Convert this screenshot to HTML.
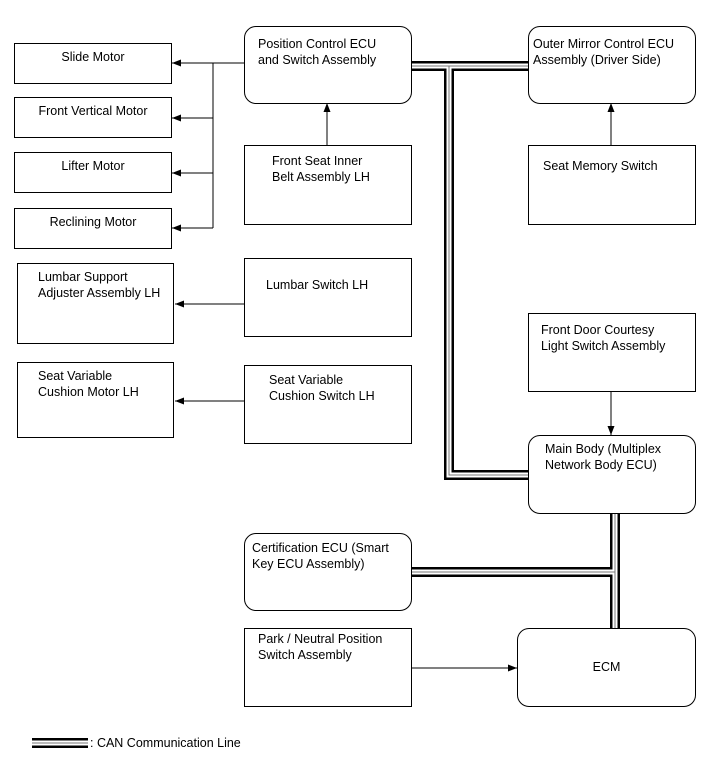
<!DOCTYPE html>
<html><head><meta charset="utf-8"><style>
body{margin:0;width:713px;height:782px;background:#fff;position:relative;overflow:hidden;font-family:"Liberation Sans",Arial,sans-serif;font-size:12.5px;color:#000}
.b{position:absolute;border:1.5px solid #000;box-sizing:border-box;line-height:16px}
.r{border-radius:12px}
.c{text-align:center}
svg{position:absolute;left:0;top:0}
</style></head><body>
<svg width="713" height="782">
<defs><marker id="a" markerWidth="9" markerHeight="7" refX="9" refY="3.5" orient="auto" markerUnits="userSpaceOnUse"><path d="M0,0L9,3.5L0,7z" fill="#000"/></marker></defs>
<g stroke="#000" stroke-width="1" fill="none">
<path d="M244,63H172" marker-end="url(#a)"/>
<path d="M213,63V228"/>
<path d="M213,118H172" marker-end="url(#a)"/>
<path d="M213,173H172" marker-end="url(#a)"/>
<path d="M213,228H172" marker-end="url(#a)"/>
<path d="M327,145V103" marker-end="url(#a)"/>
<path d="M244,304H175" marker-end="url(#a)"/>
<path d="M244,401H175" marker-end="url(#a)"/>
<path d="M611,145V103" marker-end="url(#a)"/>
<path d="M611,391V435" marker-end="url(#a)"/>
<path d="M411,668H517" marker-end="url(#a)"/>
</g>
<g fill="none">
<g stroke="#000" stroke-width="10"><path d="M411,66H528"/><path d="M449,66V475H528"/><path d="M615,513V628"/><path d="M411,572H615"/><path d="M32,743H88"/></g>
<g stroke="#fff" stroke-width="5"><path d="M411,66H528"/><path d="M449,66V475H528"/><path d="M615,513V628"/><path d="M411,572H615"/><path d="M32,743H88"/></g>
<g stroke="#777" stroke-width="1"><path d="M411,66H528"/><path d="M449,66V475H528"/><path d="M615,513V628"/><path d="M411,572H615"/><path d="M32,743H88"/></g>
</g>
</svg>
<div class="b c" style="left:14px;top:43px;width:158px;height:41px;padding-top:5px">Slide Motor</div>
<div class="b c" style="left:14px;top:97px;width:158px;height:41px;padding-top:5px">Front Vertical Motor</div>
<div class="b c" style="left:14px;top:152px;width:158px;height:41px;padding-top:5px">Lifter Motor</div>
<div class="b c" style="left:14px;top:208px;width:158px;height:41px;padding-top:5px">Reclining Motor</div>
<div class="b" style="left:17px;top:263px;width:157px;height:81px;padding:5px 0 0 20px">Lumbar Support<br>Adjuster Assembly LH</div>
<div class="b" style="left:17px;top:362px;width:157px;height:76px;padding:5px 0 0 20px">Seat Variable<br>Cushion Motor LH</div>
<div class="b r" style="left:244px;top:26px;width:168px;height:78px;padding:9px 0 0 13px">Position Control ECU<br>and Switch Assembly</div>
<div class="b" style="left:244px;top:145px;width:168px;height:80px;padding:7px 0 0 27px">Front Seat Inner<br>Belt Assembly LH</div>
<div class="b" style="left:244px;top:258px;width:168px;height:79px;padding:18px 0 0 21px">Lumbar Switch LH</div>
<div class="b" style="left:244px;top:365px;width:168px;height:79px;padding:6px 0 0 24px">Seat Variable<br>Cushion Switch LH</div>
<div class="b r" style="left:528px;top:26px;width:168px;height:78px;padding:9px 0 0 4px">Outer Mirror Control ECU<br>Assembly (Driver Side)</div>
<div class="b" style="left:528px;top:145px;width:168px;height:80px;padding:12px 0 0 14px">Seat Memory Switch</div>
<div class="b" style="left:528px;top:313px;width:168px;height:79px;padding:8px 0 0 12px">Front Door Courtesy<br>Light Switch Assembly</div>
<div class="b r" style="left:528px;top:435px;width:168px;height:79px;padding:5px 0 0 16px">Main Body (Multiplex<br>Network Body ECU)</div>
<div class="b r" style="left:244px;top:533px;width:168px;height:78px;padding:6px 0 0 7px">Certification ECU (Smart<br>Key ECU Assembly)</div>
<div class="b" style="left:244px;top:628px;width:168px;height:79px;padding:2px 0 0 13px">Park / Neutral Position<br>Switch Assembly</div>
<div class="b r c" style="left:517px;top:628px;width:179px;height:79px;padding-top:30px">ECM</div>
<div style="position:absolute;left:90px;top:735px;line-height:16px">: CAN Communication Line</div>
</body></html>
